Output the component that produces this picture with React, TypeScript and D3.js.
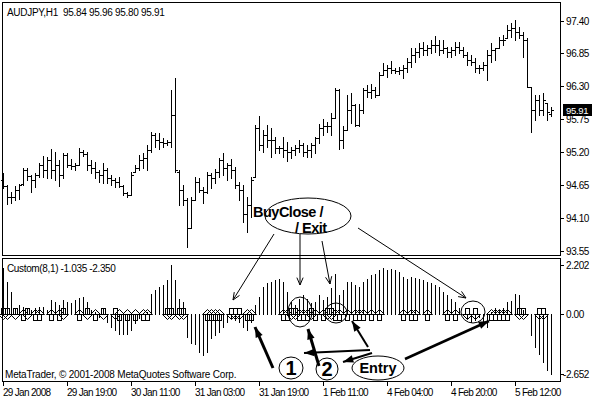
import React from "react";
import * as d3 from "d3";

// AUDJPY H1 bars
const opens = [
  94.74, 94.64, 94.46, 94.46, 94.57, 94.67, 94.91, 94.81, 94.74, 94.82,
  94.99, 94.91, 95.07, 94.91, 94.99, 94.82, 95.16, 94.99, 94.97, 94.99,
  95.21, 95.17, 94.99, 94.94, 94.87, 94.82, 94.91, 94.77, 94.74, 94.71,
  94.64, 94.52, 94.49, 94.87, 94.94, 95.07, 95.11, 95.24, 95.49, 95.41,
  95.37, 95.36, 95.37, 95.82, 94.87, 94.57, 94.41, 93.94, 94.41, 94.71,
  94.57, 94.54, 94.82, 94.77, 94.87, 95.07, 94.94, 94.99, 94.91, 94.66,
  94.57, 94.16, 94.32, 94.79, 95.61, 95.32, 95.49, 95.41, 95.41, 95.27,
  95.27, 95.24, 95.21, 95.24, 95.27, 95.32, 95.21, 95.24, 95.32, 95.44,
  95.61, 95.64, 95.64, 95.77, 96.24, 95.41, 95.57, 95.91, 95.99, 95.66,
  95.91, 96.24, 96.21, 96.24, 96.16, 96.49, 96.57, 96.61, 96.57, 96.56,
  96.57, 96.61, 96.71, 96.82, 96.87, 96.94, 96.91, 96.94, 96.99, 96.99,
  96.91, 96.94, 96.87, 96.91, 96.96, 96.91, 96.82, 96.74, 96.71, 96.61,
  96.61, 96.66, 96.82, 96.91, 96.94, 97.07, 97.11, 97.24, 97.27, 97.21,
  97.16, 97.07, 96.29, 95.91, 96.07, 95.91, 96.02, 95.84,
];
const highs = [
  94.86, 94.66, 94.54, 94.64, 94.67, 94.94, 94.94, 94.82, 94.86, 95.02,
  95.14, 95.12, 95.26, 95.21, 95.07, 95.19, 95.19, 95.09, 95.02, 95.27,
  95.24, 95.21, 95.07, 95.04, 94.91, 95.02, 94.94, 94.82, 94.77, 94.79,
  94.66, 94.54, 94.87, 94.99, 95.16, 95.19, 95.32, 95.54, 95.52, 95.52,
  95.44, 95.41, 96.24, 96.44, 94.91, 94.66, 94.44, 94.46, 94.79, 94.77,
  94.62, 94.87, 94.86, 94.92, 95.11, 95.19, 95.02, 95.09, 94.96, 94.71,
  94.66, 94.46, 94.79, 95.66, 95.81, 95.57, 95.66, 95.61, 95.46, 95.31,
  95.46, 95.37, 95.29, 95.32, 95.41, 95.36, 95.32, 95.36, 95.46, 95.67,
  95.76, 95.71, 95.86, 96.27, 96.26, 95.64, 96.16, 96.19, 96.01, 96.01,
  96.27, 96.32, 96.34, 96.29, 96.54, 96.69, 96.66, 96.72, 96.61, 96.62,
  96.66, 96.77, 96.94, 96.94, 97.02, 97.04, 96.99, 97.07, 97.14, 97.07,
  97.07, 96.96, 96.96, 97.04, 97.04, 96.96, 96.87, 96.82, 96.77, 96.66,
  96.71, 96.91, 97.02, 96.94, 97.12, 97.16, 97.32, 97.36, 97.41, 97.29,
  97.21, 97.11, 96.29, 96.16, 96.16, 96.19, 96.02, 95.96,
];
const lows = [
  94.61, 94.34, 94.36, 94.41, 94.42, 94.66, 94.74, 94.54, 94.62, 94.79,
  94.79, 94.77, 94.77, 94.74, 94.64, 94.77, 94.96, 94.92, 94.91, 94.99,
  95.14, 94.91, 94.86, 94.77, 94.71, 94.69, 94.69, 94.66, 94.62, 94.62,
  94.49, 94.46, 94.49, 94.87, 94.91, 94.94, 94.91, 95.21, 95.29, 95.26,
  95.29, 95.32, 95.29, 94.87, 94.32, 94.32, 93.62, 93.94, 94.41, 94.54,
  94.36, 94.52, 94.61, 94.69, 94.79, 94.82, 94.74, 94.77, 94.61, 94.41,
  94.04, 93.86, 94.12, 94.79, 95.24, 95.21, 95.29, 95.12, 95.19, 95.19,
  95.12, 95.06, 95.11, 95.16, 95.21, 95.14, 95.12, 95.12, 95.19, 95.36,
  95.49, 95.54, 95.49, 95.77, 95.26, 95.27, 95.57, 95.69, 95.64, 95.64,
  95.86, 96.12, 96.11, 96.12, 96.16, 96.49, 96.46, 96.52, 96.52, 96.51,
  96.44, 96.54, 96.62, 96.71, 96.79, 96.82, 96.82, 96.86, 96.87, 96.82,
  96.86, 96.79, 96.79, 96.82, 96.86, 96.79, 96.66, 96.66, 96.54, 96.52,
  96.57, 96.41, 96.71, 96.74, 96.94, 96.99, 97.11, 97.12, 97.07, 97.11,
  96.79, 96.29, 95.54, 95.74, 95.82, 95.82, 95.74, 95.8,
];
const closes = [
  94.64, 94.46, 94.46, 94.57, 94.66, 94.91, 94.81, 94.74, 94.82, 94.99,
  94.91, 95.07, 94.91, 94.99, 94.82, 95.16, 94.99, 94.97, 94.99, 95.21,
  95.17, 94.99, 94.94, 94.87, 94.82, 94.91, 94.77, 94.74, 94.71, 94.64,
  94.52, 94.49, 94.82, 94.94, 95.07, 95.11, 95.24, 95.49, 95.41, 95.37,
  95.36, 95.37, 95.82, 94.91, 94.57, 94.41, 93.94, 94.41, 94.71, 94.57,
  94.54, 94.82, 94.77, 94.87, 95.07, 94.94, 94.99, 94.91, 94.66, 94.57,
  94.16, 94.32, 94.74, 95.61, 95.32, 95.49, 95.41, 95.41, 95.27, 95.27,
  95.24, 95.21, 95.24, 95.27, 95.32, 95.21, 95.24, 95.32, 95.44, 95.61,
  95.64, 95.64, 95.77, 96.24, 95.41, 95.57, 95.91, 95.99, 95.66, 95.91,
  96.24, 96.21, 96.24, 96.16, 96.49, 96.57, 96.61, 96.57, 96.56, 96.57,
  96.61, 96.71, 96.82, 96.87, 96.94, 96.91, 96.94, 96.99, 96.99, 96.91,
  96.94, 96.87, 96.91, 96.96, 96.91, 96.82, 96.74, 96.71, 96.61, 96.61,
  96.66, 96.82, 96.91, 96.94, 97.07, 97.07, 97.24, 97.27, 97.21, 97.16,
  97.07, 96.29, 95.91, 96.07, 95.91, 96.07, 95.87, 95.91,
];

// Custom(8,1) histogram
const osc = [
  2.05, 1.45, 1.0, 0.27, 0.41, 0.34, 0.27, 0.19, 0.27, 0.34,
  0.34, 0.19, 0.64, 0.56, 0.41, 0.64, 0.56, 0.49, 0.64, 0.74,
  0.79, 0.56, 0.19, 0.12, -0.1, 0.27, -0.33, -0.55, -0.7, -0.89,
  -0.89, -0.85, -0.7, -0.4, -0.18, 0.04, 0.12, 0.93, 1.08, 1.23,
  1.33, 1.53, 2.202, 1.53, 0.71, 0.56, -0.99, -1.29, -1.33, -1.66,
  -1.81, -1.66, -1.07, -0.92, -0.77, -0.55, -0.33, -0.18, -0.25, -0.33,
  -0.55, -0.7, -0.33, 0.41, 0.79, 1.23, 1.38, 1.45, 1.53, 1.6,
  1.45, 1.01, 0.56, 0.41, 0.71, 0.86, 0.71, 0.49, 0.56, 0.86,
  0.64, 0.79, 1.16, 1.82, 0.86, 1.08, 1.45, 1.45, 1.3, 1.23,
  1.45, 1.6, 1.75, 1.82, 1.97, 2.05, 1.97, 2.02, 1.97, 1.9,
  1.68, 1.6, 1.68, 1.63, 1.6, 1.53, 1.45, 1.38, 1.3, 1.23,
  1.01, 0.86, 0.71, 0.56, 0.27, 0.04, -0.18, -0.33, -0.25, -0.1,
  -0.4, -0.55, 0.12, 0.27, 0.19, 0.3, 0.56, 0.59, 0.93, 0.86,
  0.19, 0.04, -0.92, -1.44, -1.74, -2.11, -2.48, -2.652,
];

// signal arrows on the zero line: u = up arrow, d = down arrow
const signals = (
  "dd.d.ud.uu" + "..u.ud...u" + ".d.u.d..du" + ".u.u.uu..." + ".dd.dd...." +
  ".uuuu..ddd" + ".uu......." + "uudduuudu." + "udduu.u.uu" + "u.u.u....." +
  "u.uu..u..." + ".u.u..d.d." + "..uuuuu..d" + "d...dd.."
).split("");

const priceTicks = [97.4, 96.85, 96.3, 95.75, 95.2, 94.65, 94.1, 93.55];
const oscTicks = [2.202, 0, -2.652];
const timeLabels = [
  "29 Jan 2008", "29 Jan 19:00", "30 Jan 11:00", "31 Jan 03:00", "31 Jan 19:00",
  "1 Feb 11:00", "4 Feb 04:00", "4 Feb 20:00", "5 Feb 12:00",
];
const barsPerLabel = 16;

const FONT = "'Liberation Sans', Arial, sans-serif";

function openHead(x1: number, y1: number, x2: number, y2: number, len = 8, ang = 0.4) {
  const a = Math.atan2(y2 - y1, x2 - x1);
  const p1 = [x2 - len * Math.cos(a - ang), y2 - len * Math.sin(a - ang)];
  const p2 = [x2 - len * Math.cos(a + ang), y2 - len * Math.sin(a + ang)];
  return `M${p1[0]},${p1[1]}L${x2},${y2}L${p2[0]},${p2[1]}`;
}
function fillHead(x1: number, y1: number, x2: number, y2: number, len = 11, ang = 0.35) {
  const a = Math.atan2(y2 - y1, x2 - x1);
  const p1 = [x2 - len * Math.cos(a - ang), y2 - len * Math.sin(a - ang)];
  const p2 = [x2 - len * Math.cos(a + ang), y2 - len * Math.sin(a + ang)];
  return `M${p1[0]},${p1[1]}L${x2},${y2}L${p2[0]},${p2[1]}Z`;
}

const ThinArrow = ({ x1, y1, x2, y2 }) => (
  <g stroke="#000" strokeWidth={1} fill="none">
    <line x1={x1} y1={y1} x2={x2} y2={y2} />
    <path d={openHead(x1, y1, x2, y2)} />
  </g>
);
const ThickArrow = ({ x1, y1, x2, y2, w = 3 }) => (
  <g>
    <line x1={x1} y1={y1} x2={x2} y2={y2} stroke="#000" strokeWidth={w} />
    <path d={fillHead(x1, y1, x2, y2)} fill="#000" />
  </g>
);

export default function App() {
  const N = closes.length;
  const x = d3.scaleLinear().domain([0, N - 1]).range([3, 551]);
  const yP = d3.scaleLinear().domain([93.55, 97.4]).range([251, 20.5]);
  const yI = d3.scaleLinear().domain([-2.652, 2.202]).range([374, 265]);
  const y0 = Math.round(yI(0));
  const axisX = 560;
  const yLast = Math.round(yP(closes[N - 1]));

  return (
    <svg
      width={600}
      height={400}
      style={{ position: "absolute", left: 0, top: 0, background: "#fff" }}
      fontFamily={FONT}
    >
      <rect width={600} height={400} fill="#fff" />
      {/* pane frames */}
      <rect x={2.5} y={2.5} width={axisX - 2} height={253} fill="none" stroke="#000" />
      <rect x={2.5} y={258.5} width={axisX - 2} height={123} fill="none" stroke="#000" />

      {/* OHLC bars */}
      <g fill="#000">
        {closes.map((c, i) => {
          const px = Math.round(x(i));
          const yh = Math.round(yP(highs[i]));
          const yl = Math.round(yP(lows[i]));
          return (
            <g key={i}>
              <rect x={px} y={yh} width={1} height={Math.max(1, yl - yh + 1)} />
              <rect x={px - 2} y={Math.round(yP(opens[i]))} width={2} height={1} />
              <rect x={px + 1} y={Math.round(yP(c))} width={2} height={1} />
            </g>
          );
        })}
      </g>

      {/* price axis */}
      <g fontSize={10} letterSpacing={-0.4}>
        {priceTicks.map((t) => {
          const yy = Math.round(yP(t));
          return (
            <g key={t}>
              <rect x={axisX} y={yy} width={4} height={1} />
              <text x={566} y={yy + 4}>{t.toFixed(2)}</text>
            </g>
          );
        })}
      </g>
      <rect x={563} y={yLast - 6} width={29} height={12} fill="#000" />
      <text x={566} y={yLast + 3.5} fill="#fff" fontSize={9.5} letterSpacing={-0.3}>
        {closes[N - 1].toFixed(2)}
      </text>

      <text x={7} y={16} fontSize={10} letterSpacing={-0.3} style={{ whiteSpace: "pre" }}>
        {`AUDJPY,H1  ${opens[N - 1].toFixed(2)} ${highs[N - 1].toFixed(2)} ${lows[N - 1].toFixed(2)} ${closes[N - 1].toFixed(2)}`}
      </text>

      {/* indicator histogram */}
      <g fill="#000">
        {osc.map((v, i) => {
          const px = Math.round(x(i));
          const yv = Math.round(yI(v));
          return <rect key={i} x={px} y={Math.min(y0, yv)} width={1} height={Math.abs(yv - y0) + 1} />;
        })}
      </g>

      {/* signal arrows */}
      <g fill="none" stroke="#000" strokeWidth={1}>
        {signals.map((s, i) => {
          if (s === ".") return null;
          const cx = Math.round(x(i)) + 0.5;
          const z = y0 + 0.5;
          if (s === "u") {
            return (
              <g key={i}>
                <path d={`M${cx - 5},${z}L${cx},${z - 5}L${cx + 5},${z}Z`} />
                <rect x={cx - 2} y={z} width={4} height={6} />
              </g>
            );
          }
          return (
            <g key={i}>
              <rect x={cx - 2} y={z - 6} width={4} height={6} />
              <path d={`M${cx - 5},${z}L${cx},${z + 5}L${cx + 5},${z}Z`} />
            </g>
          );
        })}
      </g>

      <g fontSize={10} letterSpacing={-0.4}>
        {oscTicks.map((t) => {
          const yy = Math.round(yI(t));
          return (
            <g key={t}>
              <rect x={axisX} y={yy} width={4} height={1} />
              <text x={t < 0 ? 563 : 566} y={yy + 4}>
                {t === 0 ? "0.00" : t.toFixed(3)}
              </text>
            </g>
          );
        })}
      </g>
      <text x={7} y={272} fontSize={10} letterSpacing={-0.35}>
        Custom(8,1) -1.035 -2.350
      </text>
      <text x={5} y={378} fontSize={10} letterSpacing={-0.2}>
        MetaTrader, © 2001-2008 MetaQuotes Software Corp.
      </text>

      {/* time axis */}
      <g fontSize={10} letterSpacing={-0.7}>
        {timeLabels.map((lab, k) => {
          const px = Math.round(x(k * barsPerLabel));
          return (
            <g key={lab}>
              <rect x={px} y={382} width={1} height={4} />
              <text x={px} y={396}>{lab}</text>
            </g>
          );
        })}
      </g>

      {/* annotations */}
      <g>
        <ellipse cx={308} cy={216} rx={43} ry={18} fill="none" stroke="#000" />
        <text x={253} y={217} fontSize={14.5} fontWeight="bold" letterSpacing={-0.5}>
          BuyClose /
        </text>
        <text x={295} y={233} fontSize={14.5} fontWeight="bold" letterSpacing={-0.5}>
          / Exit
        </text>
        <ThinArrow x1={274} y1={234} x2={233} y2={300} />
        <ThinArrow x1={300} y1={234} x2={300} y2={285} />
        <ThinArrow x1={322} y1={241} x2={330} y2={284} />
        <ThinArrow x1={358} y1={228} x2={466} y2={298} />

        <ellipse cx={300} cy={312} rx={12} ry={15} fill="none" stroke="#000" />
        <ellipse cx={336} cy={313} rx={11} ry={10} fill="none" stroke="#000" />
        <ellipse cx={473} cy={312} rx={12} ry={11} fill="none" stroke="#000" />

        <ellipse cx={291} cy={368} rx={12} ry={11} fill="#fff" stroke="#000" />
        <text x={291} y={375} fontSize={20} fontWeight="bold" textAnchor="middle">1</text>
        <ellipse cx={327} cy={369} rx={11} ry={11} fill="#fff" stroke="#000" />
        <text x={327} y={376} fontSize={20} fontWeight="bold" textAnchor="middle">2</text>
        <ellipse cx={378} cy={368} rx={26} ry={12} fill="#fff" stroke="#000" />
        <text x={378} y={373} fontSize={14.5} fontWeight="bold" textAnchor="middle">Entry</text>

        <ThickArrow x1={273} y1={368} x2={255} y2={327} />
        <ThickArrow x1={319} y1={366} x2={308} y2={329} />
        <ThickArrow x1={370} y1={350} x2={304} y2={353} w={2} />
        <ThickArrow x1={372} y1={353} x2={343} y2={362} w={2} />
        <ThickArrow x1={368} y1={347} x2={352} y2={321} w={2} />
        <ThickArrow x1={405} y1={359} x2={489} y2={321} w={2.5} />
      </g>
    </svg>
  );
}
